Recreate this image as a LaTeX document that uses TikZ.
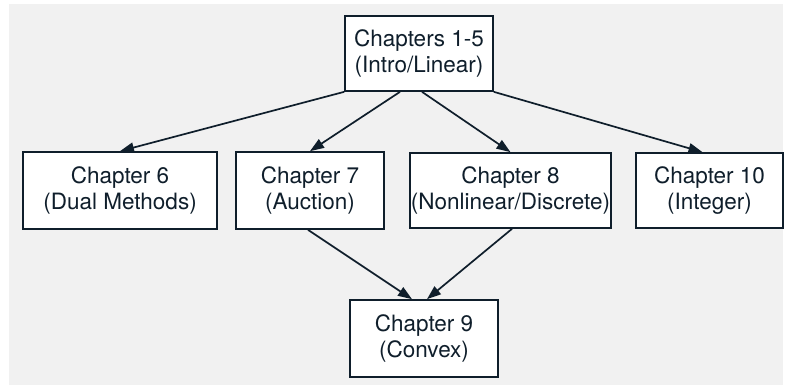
\documentclass[tikz,border=0pt]{standalone}
\usepackage{fontspec}
\setmainfont{TeX Gyre Heros}
\usetikzlibrary{arrows.meta}
\definecolor{ink}{HTML}{0F1E2B}
\definecolor{canvas}{HTML}{F1F1F1}
\begin{document}
\begin{tikzpicture}[x=1pt,y=-1pt,
  chapbox/.style={draw=ink, line width=1.7pt, fill=white, rectangle,
    inner sep=0pt, align=center, text=ink,
    font=\fontsize{22.5}{25.5}\selectfont},
  link/.style={draw=ink, line width=1.7pt,
    -{Triangle[length=14pt,width=10pt]}}]
  % page and canvas
  \useasboundingbox (0,0) rectangle (785,387);
  \fill[canvas] (9,4) rectangle (783,385);

  % chapters
  \node[chapbox, minimum width=148pt, minimum height=75pt] (intro) at (419,53.5) {Chapters 1-5\\(Intro/Linear)};
  \node[chapbox, minimum width=194pt, minimum height=77pt] (dual) at (120,190.5) {Chapter 6\\(Dual Methods)};
  \node[chapbox, minimum width=148pt, minimum height=77pt] (auction) at (310,190.5) {Chapter 7\\(Auction)};
  \node[chapbox, minimum width=201pt, minimum height=75pt] (nonlin) at (510.5,190.5) {Chapter 8\\(Nonlinear/Discrete)};
  \node[chapbox, minimum width=147pt, minimum height=75pt] (integer) at (709.5,190.5) {Chapter 10\\(Integer)};
  \node[chapbox, minimum width=148pt, minimum height=77pt] (convex) at (424,338.5) {Chapter 9\\(Convex)};

  % dependencies
  \draw[link] (intro.south west) -- (dual.north);
  \draw[link] ([xshift=-19pt]intro.south) -- (auction.north);
  \draw[link] ([xshift=3pt]intro.south) -- (nonlin.north);
  \draw[link] (intro.south east) -- ([xshift=-7pt]integer.north);
  \draw[link] ([xshift=-2pt]auction.south) -- ([xshift=-12pt]convex.north);
  \draw[link] ([xshift=1.5pt]nonlin.south) -- ([xshift=3pt]convex.north);
\end{tikzpicture}
\end{document}
